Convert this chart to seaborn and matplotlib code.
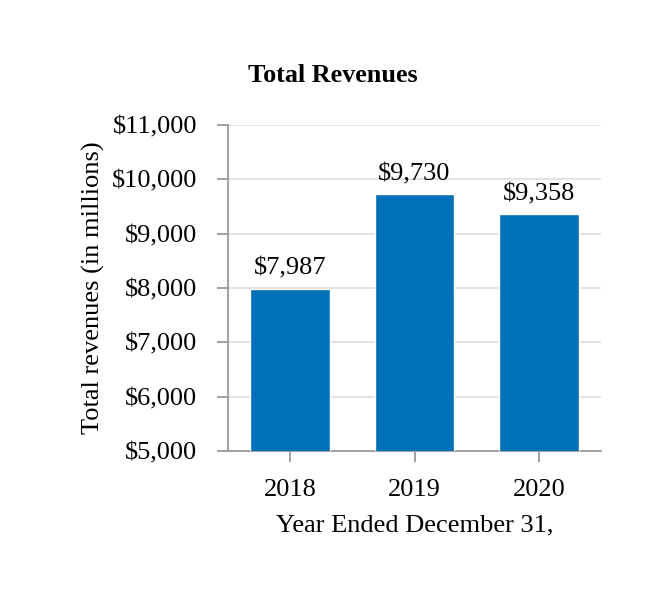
import matplotlib
matplotlib.use("Agg")
import matplotlib.pyplot as plt
import seaborn as sns
import pandas as pd

years = ["2018", "2019", "2020"]
revenues = [7987, 9730, 9358]
value_labels = ["$7,987", "$9,730", "$9,358"]
y_ticks = [5000, 6000, 7000, 8000, 9000, 10000, 11000]
y_tick_labels = ["$5,000", "$6,000", "$7,000", "$8,000", "$9,000", "$10,000", "$11,000"]

sns.set_theme(style="white")
plt.rcParams['font.family'] = ['Liberation Serif', 'DejaVu Serif']

df = pd.DataFrame({"year": years, "revenue": revenues})

fig = plt.figure(figsize=(6.66, 6.0), dpi=100)
ax = fig.add_axes([228/666, 1-451/600, (601-228)/666, (451-125)/600])

sns.barplot(data=df, x="year", y="revenue", color="#0070B8", saturation=1,
            width=0.64, ax=ax, zorder=3)

ax.set_ylim(5000, 11000)
ax.set_xlim(-0.5, 2.5)
ax.set_yticks(y_ticks)
ax.set_yticklabels(y_tick_labels)
ax.yaxis.grid(True, color="#E0E0E0", linewidth=1.3, zorder=0)
ax.set_axisbelow(True)
for s in ["top", "right"]:
    ax.spines[s].set_visible(False)
for s in ["left", "bottom"]:
    ax.spines[s].set_color("#9A9A9A")
    ax.spines[s].set_linewidth(1.3)
ax.tick_params(axis="both", which="major", length=8, width=1.3, color="#9A9A9A",
               labelsize=19, labelcolor="black", direction="out")
ax.tick_params(axis="y", left=True, pad=14)
ax.tick_params(axis="x", bottom=True, pad=12)

for i, (v, lab) in enumerate(zip(revenues, value_labels)):
    ax.annotate(lab, xy=(i, v), xytext=(0, 10), textcoords="offset points",
                ha="center", va="baseline", fontsize=19, color="black")

ax.set_xlabel("Year Ended December 31,", fontsize=19, labelpad=10, color="black")
ax.set_ylabel("Total revenues (in millions)", fontsize=19, labelpad=5, color="black")

fig.text(0.5, 1-76/600, "Total Revenues", ha="center", va="center",
         fontsize=18.8, fontweight="bold", color="black")

fig.savefig("out.png", dpi=100, facecolor="white")
